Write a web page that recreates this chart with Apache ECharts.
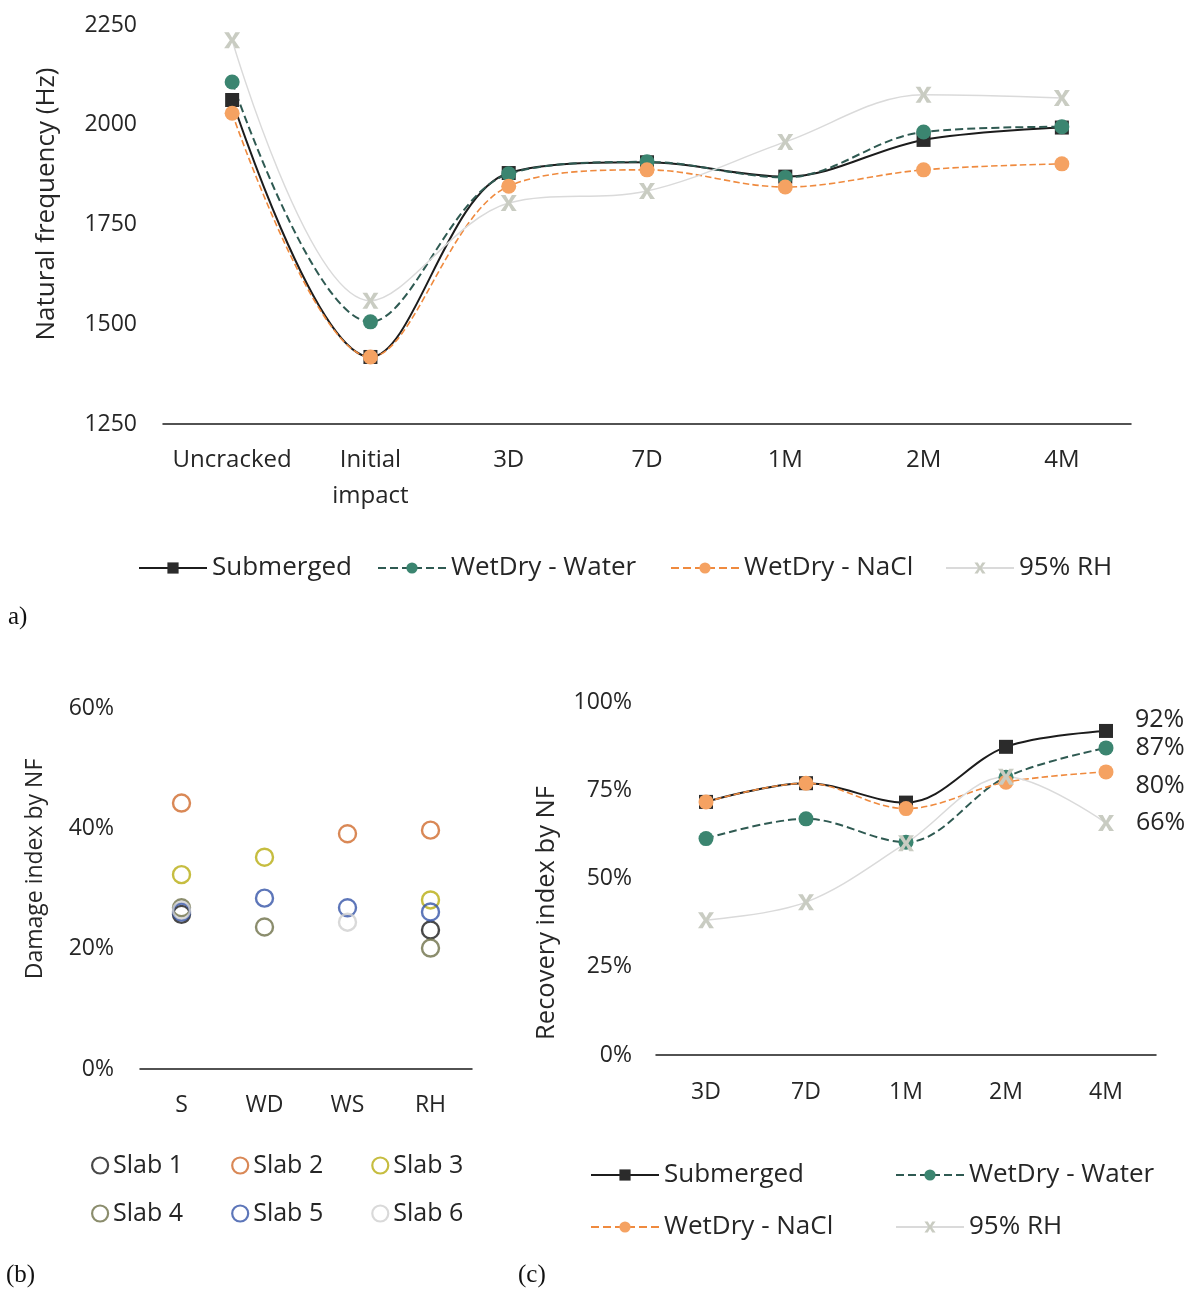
<!DOCTYPE html>
<html>
<head>
<meta charset="utf-8">
<script src="https://cdn.jsdelivr.net/npm/echarts@6/dist/echarts.min.js"></script>
<style>html,body{margin:0;padding:0;background:#fff}#c{width:1184px;height:1290px}</style>
</head>
<body>
<div id="c"></div>
<script>
// ---- Panel a: natural frequency (Hz)
const catsA = ['Uncracked', 'Initial\nimpact', '3D', '7D', '1M', '2M', '4M'];
const aSubmerged = [2062, 1418, 1879, 1906, 1870, 1962, 1993];
const aWater     = [2107, 1506, 1877, 1907, 1868, 1982, 1995];
const aNaCl      = [2029, 1418, 1846, 1887, 1844, 1887, 1902];
const aRH        = [2212, 1559, 1804, 1834, 1957, 2075, 2067];
const ticksA = [1250, 1500, 1750, 2000, 2250];

// ---- Panel b: damage index by NF (%)
const catsB = ['S', 'WD', 'WS', 'RH'];
const slab1 = [25.7, null, null, 23.1];
const slab2 = [44.2, null, 39.1, 39.7];
const slab3 = [32.3, 35.2, null, 28.1];
const slab4 = [26.8, 23.6, null, 20.1];
const slab5 = [26.1, 28.4, 26.8, 26.1];
const slab6 = [26.4, null, 24.4, null];
const ticksB = ['0%', '20%', '40%', '60%'];

// ---- Panel c: recovery index by NF (%)
const catsC = ['3D', '7D', '1M', '2M', '4M'];
const cSubmerged = [71.7, 77.0, 71.5, 87.3, 91.8];
const cWater     = [61.3, 66.9, 60.3, 78.7, 87.0];
const cNaCl      = [71.7, 77.0, 69.8, 77.3, 80.2];
const cRH        = [38.2, 43.3, 60.0, 78.8, 65.7];
const ticksC = ['0%', '25%', '50%', '75%', '100%'];

const FONT = 'Open Sans';
const TXT = '#262626';
const RH_SYMBOL = 'path://M0,0L3,0L5,3.5L7,0L10,0L6.5,5L10,10L7,10L5,6.5L3,10L0,10L3.5,5Z';

const styles = {
  'Submerged':     {symbol: 'rect', symbolSize: 14, itemStyle: {color: '#2b2b2b'}, lineStyle: {color: '#1c1c1c', width: 2, type: 'solid'}},
  'WetDry - Water':{symbol: 'circle', symbolSize: 15, itemStyle: {color: '#3b8570'}, lineStyle: {color: '#2f5a52', width: 2, type: 'dashed'}},
  'WetDry - NaCl': {symbol: 'circle', symbolSize: 15, itemStyle: {color: '#f5a262'}, lineStyle: {color: '#ef8a3e', width: 1.6, type: 'dashed'}},
  '95% RH':        {symbol: RH_SYMBOL, symbolSize: 16, itemStyle: {color: '#c9ccc2'}, lineStyle: {color: '#dadada', width: 1.5, type: 'solid'}}
};

function lineSeries(name, data, gi, labelOpts) {
  const s = styles[name];
  return {
    name, type: 'line', xAxisIndex: gi, yAxisIndex: gi, smooth: 0.35,
    symbol: s.symbol, symbolSize: s.symbolSize,
    itemStyle: s.itemStyle, lineStyle: s.lineStyle,
    data: labelOpts ? data.map((v, i) => i === data.length - 1 ? {value: v, label: labelOpts} : v) : data
  };
}

const slabColors = ['#1a1a1a', '#cf6a2c', '#b8ac10', '#6e7048', '#3554a8', '#cfcfcf'];
const slabNames = ['Slab 1', 'Slab 2', 'Slab 3', 'Slab 4', 'Slab 5', 'Slab 6'];
const slabData = [slab1, slab2, slab3, slab4, slab5, slab6];

function scatterSeries(i) {
  return {
    name: slabNames[i], type: 'scatter', xAxisIndex: 1, yAxisIndex: 1,
    symbol: 'circle', symbolSize: 17,
    itemStyle: {color: 'rgba(255,255,255,0)', borderColor: slabColors[i], borderWidth: 2.4},
    data: slabData[i]
  };
}

function endLabel(offsetY) {
  return {show: true, position: 'right', distance: 22, offset: [0, offsetY],
    formatter: p => Math.round(p.value) + '%', fontSize: 25, color: TXT, fontFamily: FONT};
}

function lineLegend(name, left, top) {
  return {
    data: [name], left, top, orient: 'horizontal', itemWidth: 68, itemHeight: 14,
    textStyle: {fontSize: 26, color: TXT, fontFamily: FONT}, selectedMode: false
  };
}
function slabLegend(idx, left, top) {
  return {
    data: idx.map(i => ({name: slabNames[i], icon: 'circle',
      itemStyle: {color: '#fff', borderColor: slabColors[i], borderWidth: 2.2}})),
    left, top, itemGap: 48, itemWidth: 16, itemHeight: 16,
    textStyle: {fontSize: 25, color: TXT, fontFamily: FONT}, selectedMode: false
  };
}

const axisLabelBase = {color: TXT, fontFamily: FONT};

const option = {
  animation: false,
  backgroundColor: '#fff',
  textStyle: {fontFamily: FONT},
  grid: [
    {left: 163, top: 25, width: 968, height: 399},
    {left: 140, top: 708, width: 332, height: 361},
    {left: 656, top: 702, width: 500, height: 353}
  ],
  xAxis: [
    {gridIndex: 0, type: 'category', data: catsA, boundaryGap: true,
      axisLine: {lineStyle: {color: '#1a1a1a', width: 1.5}}, axisTick: {show: false},
      axisLabel: Object.assign({}, axisLabelBase, {fontSize: 24, margin: 18, lineHeight: 36, interval: 0})},
    {gridIndex: 1, type: 'category', data: catsB, boundaryGap: true,
      axisLine: {lineStyle: {color: '#1a1a1a', width: 1.5}}, axisTick: {show: false},
      axisLabel: Object.assign({}, axisLabelBase, {fontSize: 23, margin: 21, lineHeight: 30, interval: 0})},
    {gridIndex: 2, type: 'category', data: catsC, boundaryGap: true,
      axisLine: {lineStyle: {color: '#1a1a1a', width: 1.5}}, axisTick: {show: false},
      axisLabel: Object.assign({}, axisLabelBase, {fontSize: 23, margin: 22, lineHeight: 30, interval: 0})}
  ],
  yAxis: [
    {gridIndex: 0, type: 'value', min: ticksA[0], max: ticksA[ticksA.length - 1], interval: 250,
      axisLine: {show: false}, axisTick: {show: false}, splitLine: {show: false},
      axisLabel: Object.assign({}, axisLabelBase, {fontSize: 23, margin: 26,
        formatter: v => String(ticksA[Math.round((v - ticksA[0]) / 250)])})},
    {gridIndex: 1, type: 'value', min: 0, max: 60, interval: 20,
      axisLine: {show: false}, axisTick: {show: false}, splitLine: {show: false},
      axisLabel: Object.assign({}, axisLabelBase, {fontSize: 23, margin: 26,
        formatter: v => ticksB[Math.round(v / 20)]})},
    {gridIndex: 2, type: 'value', min: 0, max: 100, interval: 25,
      axisLine: {show: false}, axisTick: {show: false}, splitLine: {show: false},
      axisLabel: Object.assign({}, axisLabelBase, {fontSize: 23, margin: 24,
        formatter: v => ticksC[Math.round(v / 25)]})}
  ],
  legend: [
    lineLegend('Submerged', 133, 550),
    lineLegend('WetDry - Water', 372, 550),
    lineLegend('WetDry - NaCl', 665, 550),
    lineLegend('95% RH', 940, 550),
    slabLegend([0, 1, 2], 86, 1148),
    slabLegend([3, 4, 5], 86, 1196),
    lineLegend('Submerged', 585, 1157),
    lineLegend('WetDry - Water', 890, 1157),
    lineLegend('WetDry - NaCl', 585, 1209),
    lineLegend('95% RH', 890, 1209)
  ],
  graphic: [
    {type: 'text', x: 47, y: 204, rotation: Math.PI / 2,
      style: {text: 'Natural frequency (Hz)', font: '26px "Open Sans"', fill: TXT, align: 'center', verticalAlign: 'middle'}},
    {type: 'text', x: 35, y: 869, rotation: Math.PI / 2,
      style: {text: 'Damage index by NF', font: '23px "Open Sans"', fill: TXT, align: 'center', verticalAlign: 'middle'}},
    {type: 'text', x: 547, y: 913, rotation: Math.PI / 2,
      style: {text: 'Recovery index by NF', font: '25.5px "Open Sans"', fill: TXT, align: 'center', verticalAlign: 'middle'}},
    {type: 'text', x: 8, y: 617,
      style: {text: 'a)', font: '25px "Liberation Serif"', fill: '#111', align: 'left', verticalAlign: 'middle'}},
    {type: 'text', x: 6, y: 1275,
      style: {text: '(b)', font: '25px "Liberation Serif"', fill: '#111', align: 'left', verticalAlign: 'middle'}},
    {type: 'text', x: 518, y: 1275,
      style: {text: '(c)', font: '25px "Liberation Serif"', fill: '#111', align: 'left', verticalAlign: 'middle'}}
  ],
  series: [
    lineSeries('Submerged', aSubmerged, 0),
    lineSeries('WetDry - Water', aWater, 0),
    lineSeries('WetDry - NaCl', aNaCl, 0),
    lineSeries('95% RH', aRH, 0),
    scatterSeries(0), scatterSeries(1), scatterSeries(2),
    scatterSeries(3), scatterSeries(4), scatterSeries(5),
    lineSeries('Submerged', cSubmerged, 2, endLabel(-11)),
    lineSeries('WetDry - Water', cWater, 2, endLabel(0)),
    lineSeries('WetDry - NaCl', cNaCl, 2, endLabel(14)),
    lineSeries('95% RH', cRH, 2, endLabel(0))
  ]
};

const chart = echarts.init(document.getElementById('c'), null, {renderer: 'canvas'});
chart.setOption(option);
</script>
</body>
</html>
